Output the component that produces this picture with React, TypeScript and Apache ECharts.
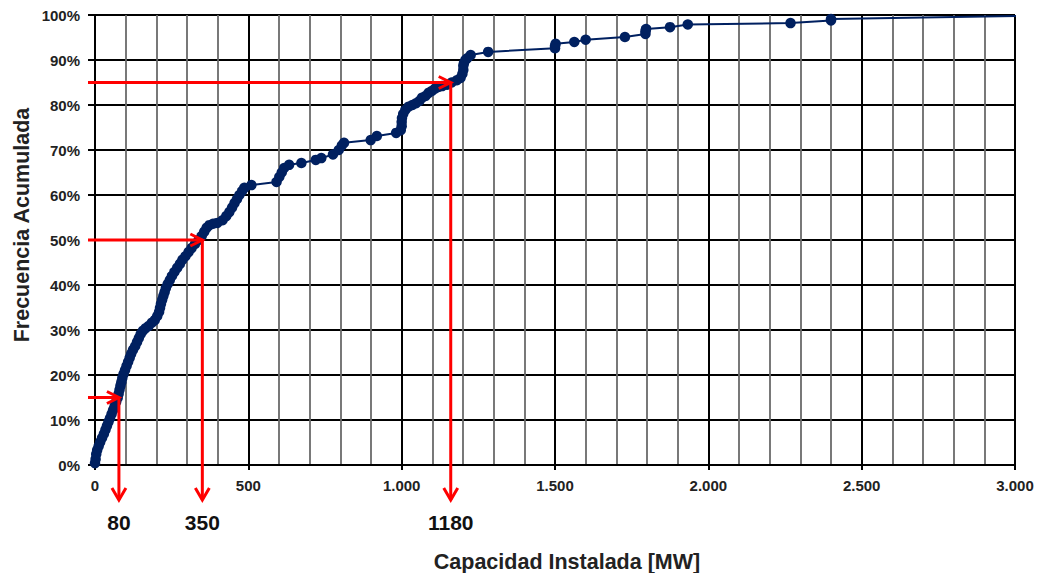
import React, { useEffect, useRef } from 'react';
import * as echarts from 'echarts';

// Installed capacity of each plant (MW), sorted, and cumulative frequency (%)
const capacityMW = [
  0, 2, 4, 7, 12, 17, 23, 29, 34, 39, 44, 49, 54, 59, 64, 69, 74, 77, 80, 83,
  86, 89, 93, 98, 103, 108, 113, 118, 124, 131, 137, 143, 149, 156, 165, 175, 185, 195, 203, 209,
  212, 215, 219, 223, 227, 231, 237, 244, 251, 259, 268, 277, 285, 295, 305, 315, 326, 338, 348, 356,
  364, 373, 385, 399, 416, 428, 438, 447, 455, 463, 471, 480, 487, 510, 592, 601, 609, 617, 633, 673,
  720, 738, 776, 795, 805, 812, 899, 919, 982, 997, 1000, 1000, 1001, 1005, 1012, 1022, 1035, 1047, 1058, 1066,
  1078, 1088, 1098, 1108, 1120, 1132, 1148, 1163, 1180, 1192, 1198, 1201, 1201, 1203, 1208, 1214, 1225, 1282, 1500, 1500,
  1502, 1563, 1600, 1728, 1795, 1795, 1797, 1875, 1933, 2268, 2400, 2400, 3230,
];
const cumulativePct = [
  0.4, 1.3, 2.4, 3.3, 4.2, 5.1, 6.0, 6.9, 7.8, 8.7, 9.6, 10.4, 11.3, 12.2, 13.1, 14.0, 14.9, 15.8, 16.7, 17.6,
  18.4, 19.3, 20.2, 21.1, 22.0, 22.9, 23.8, 24.7, 25.6, 26.4, 27.3, 28.2, 29.1, 29.8, 30.4, 30.9, 31.6, 32.2, 33.1, 34.0,
  34.9, 35.8, 36.7, 37.6, 38.4, 39.3, 40.2, 41.1, 42.0, 42.9, 43.8, 44.7, 45.6, 46.4, 47.3, 48.2, 49.1, 50.0, 50.9, 51.8,
  52.7, 53.3, 53.6, 53.8, 54.4, 55.3, 56.2, 57.2, 58.2, 59.1, 60.0, 60.9, 61.6, 62.2, 62.9, 64.0, 65.0, 66.0, 66.7, 67.1,
  67.8, 68.2, 69.0, 70.0, 71.0, 71.6, 72.2, 73.1, 73.8, 74.4, 75.3, 76.2, 77.1, 78.0, 78.9, 79.6, 80.0, 80.4, 80.9, 81.6,
  82.0, 82.7, 83.1, 83.6, 84.0, 84.2, 84.5, 85.0, 85.5, 86.0, 86.9, 87.8, 88.7, 89.3, 90.0, 90.4, 91.1, 91.8, 92.6, 93.1,
  93.6, 94.0, 94.5, 95.1, 95.8, 96.4, 96.9, 97.3, 97.9, 98.2, 98.8, 99.1, 100,
];

const xTickLabels = ['0', '500', '1.000', '1.500', '2.000', '2.500', '3.000'];
const yTickLabels = ['0%', '10%', '20%', '30%', '40%', '50%', '60%', '70%', '80%', '90%', '100%'];

// Reference reading lines (frequency level -> capacity)
const refLevelPct = [15, 50, 85];
const refCapacityMW = [78, 350, 1160];
const refLabels = ['80', '350', '1180'];

const xTitle = 'Capacidad Instalada [MW]';
const yTitle = 'Frecuencia Acumulada';

const FONT = '"Liberation Sans", Arial, sans-serif';
const NAVY = '#002060';
const RED = '#FF0000';

export default function App() {
  const ref = useRef<HTMLDivElement>(null);

  useEffect(() => {
    const chart = echarts.init(ref.current!, null, { renderer: 'svg' });
    const data = capacityMW.map((x, i) => [x, cumulativePct[i]]);

    chart.setOption({
      animation: false,
      grid: { left: 95, right: 30, top: 15, bottom: 108, containLabel: false, outerBoundsMode: 'none' },
      xAxis: {
        type: 'value',
        min: 0,
        max: 3000,
        interval: 500,
        axisLine: { show: true, onZero: false, lineStyle: { color: '#000', width: 2 } },
        axisTick: { show: true, length: 5, lineStyle: { color: '#000', width: 2 } },
        axisLabel: {
          margin: 13,
          fontFamily: FONT,
          fontWeight: 'bold',
          fontSize: 15,
          color: '#222',
          formatter: (v: number) => xTickLabels[Math.round(v / 500)] ?? '',
        },
        splitLine: { show: true, lineStyle: { color: '#000', width: 2 } },
        minorTick: { show: false, splitNumber: 5 },
        minorSplitLine: { show: true, lineStyle: { color: '#6a6a6a', width: 1.8 } },
      },
      yAxis: {
        type: 'value',
        min: 0,
        max: 100,
        interval: 10,
        axisLine: { show: true, lineStyle: { color: '#000', width: 2 } },
        axisTick: { show: true, length: 7, lineStyle: { color: '#000', width: 2 } },
        axisLabel: {
          margin: 15,
          fontFamily: FONT,
          fontWeight: 'bold',
          fontSize: 15,
          color: '#222',
          formatter: (v: number) => yTickLabels[Math.round(v / 10)] ?? '',
        },
        splitLine: { show: true, lineStyle: { color: '#000', width: 2 } },
      },
      series: [
        {
          type: 'line',
          data,
          clip: true,
          showAllSymbol: true,
          symbol: 'circle',
          symbolSize: 10.5,
          lineStyle: { color: NAVY, width: 2 },
          itemStyle: { color: NAVY },
          z: 3,
        },
      ],
    });

    const [axisLeft, axisBottom] = chart.convertToPixel({ gridIndex: 0 }, [0, 0]) as number[];
    const graphics: any[] = [];
    const redStyle = { stroke: RED, lineWidth: 3, fill: 'none' };

    refLevelPct.forEach((lvl, i) => {
      const [px, py] = chart.convertToPixel({ gridIndex: 0 }, [refCapacityMW[i], lvl]) as number[];
      const bottom = axisBottom + 35;
      graphics.push(
        { type: 'line', z: 100, shape: { x1: axisLeft - 7, y1: py, x2: px, y2: py }, style: redStyle },
        { type: 'polyline', z: 100, shape: { points: [[px - 12, py - 6], [px, py], [px - 12, py + 6]] }, style: redStyle },
        { type: 'line', z: 100, shape: { x1: px, y1: py, x2: px, y2: bottom }, style: redStyle },
        { type: 'polyline', z: 100, shape: { points: [[px - 7, bottom - 12], [px, bottom], [px + 7, bottom - 12]] }, style: redStyle },
        {
          type: 'text', z: 100, x: px, y: axisBottom + 57,
          style: { text: refLabels[i], font: `bold 21px ${FONT}`, fill: '#111', align: 'center', verticalAlign: 'middle' },
        },
      );
    });

    graphics.push(
      {
        type: 'text', x: 567, y: 562,
        style: { text: xTitle, font: `bold 21.5px ${FONT}`, fill: '#222', align: 'center', verticalAlign: 'middle' },
      },
      {
        type: 'text', x: 22, y: 225, rotation: Math.PI / 2,
        style: { text: yTitle, font: `bold 21.5px ${FONT}`, fill: '#222', align: 'center', verticalAlign: 'middle' },
      },
    );

    chart.setOption({ graphic: graphics });

    return () => chart.dispose();
  }, []);

  return <div ref={ref} style={{ position: 'absolute', left: 0, top: 0, width: 1045, height: 573 }} />;
}
